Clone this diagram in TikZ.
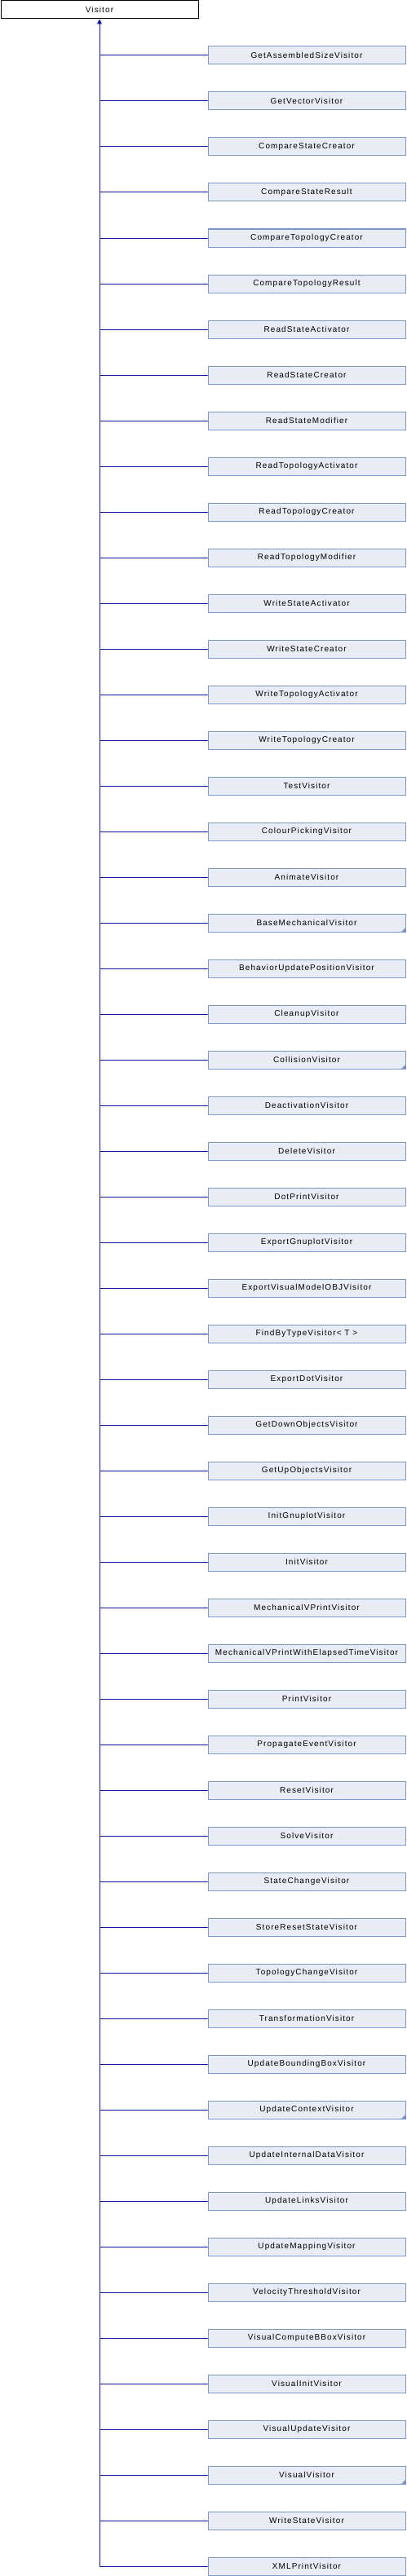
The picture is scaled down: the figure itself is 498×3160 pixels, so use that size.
\documentclass[tikz,border=0pt]{standalone}
\usepackage{fontspec}
\newfontfamily\diagfont{Liberation Sans}[LetterSpace=11]
\usetikzlibrary{arrows.meta}

\definecolor{boxfill}{HTML}{E8ECF5}
\definecolor{boxline}{HTML}{7C95CA}
\definecolor{linkblue}{HTML}{14149A}

\begin{document}
\begin{tikzpicture}[
  x=1pt, y=-1pt,
  base/.style={rectangle, draw=black, fill=white, line width=1pt, minimum width=242pt, minimum height=22pt, inner sep=0pt, anchor=north west, font=\diagfont\fontsize{10}{12}\selectfont},
  child/.style={rectangle, draw=boxline, fill=boxfill, line width=1pt, minimum width=242pt, minimum height=22pt, inner sep=0pt, anchor=north west, font=\diagfont\fontsize{10}{12}\selectfont},
  folded/.style={path picture={\fill[boxline] (path picture bounding box.south east) -- ++(-5pt,0pt) -- ++(5pt,5pt) -- cycle;}},
  link/.style={draw=linkblue, line width=1pt},
  arrow/.style={link, -{Triangle[length=6pt, width=6pt]}},
]
\useasboundingbox (0,0) rectangle (498,3160);

\node[base] (visitor) at (0.5, 0.5) {Visitor};

% Derived classes
\node[child] (c1) at (254.5, 56.5) {GetAssembledSizeVisitor};
\node[child] (c2) at (254.5, 112.5) {GetVectorVisitor};
\node[child] (c3) at (254.5, 168.5) {CompareStateCreator};
\node[child] (c4) at (254.5, 224.5) {CompareStateResult};
\node[child] (c5) at (254.5, 280.5) {CompareTopologyCreator};
\node[child] (c6) at (254.5, 336.5) {CompareTopologyResult};
\node[child] (c7) at (254.5, 392.5) {ReadStateActivator};
\node[child] (c8) at (254.5, 448.5) {ReadStateCreator};
\node[child] (c9) at (254.5, 504.5) {ReadStateModifier};
\node[child] (c10) at (254.5, 560.5) {ReadTopologyActivator};
\node[child] (c11) at (254.5, 616.5) {ReadTopologyCreator};
\node[child] (c12) at (254.5, 672.5) {ReadTopologyModifier};
\node[child] (c13) at (254.5, 728.5) {WriteStateActivator};
\node[child] (c14) at (254.5, 784.5) {WriteStateCreator};
\node[child] (c15) at (254.5, 840.5) {WriteTopologyActivator};
\node[child] (c16) at (254.5, 896.5) {WriteTopologyCreator};
\node[child] (c17) at (254.5, 952.5) {TestVisitor};
\node[child] (c18) at (254.5, 1008.5) {ColourPickingVisitor};
\node[child] (c19) at (254.5, 1064.5) {AnimateVisitor};
\node[child, folded] (c20) at (254.5, 1120.5) {BaseMechanicalVisitor};
\node[child] (c21) at (254.5, 1176.5) {BehaviorUpdatePositionVisitor};
\node[child] (c22) at (254.5, 1232.5) {CleanupVisitor};
\node[child, folded] (c23) at (254.5, 1288.5) {CollisionVisitor};
\node[child] (c24) at (254.5, 1344.5) {DeactivationVisitor};
\node[child] (c25) at (254.5, 1400.5) {DeleteVisitor};
\node[child] (c26) at (254.5, 1456.5) {DotPrintVisitor};
\node[child] (c27) at (254.5, 1512.5) {ExportGnuplotVisitor};
\node[child] (c28) at (254.5, 1568.5) {ExportVisualModelOBJVisitor};
\node[child] (c29) at (254.5, 1624.5) {FindByTypeVisitor< T >};
\node[child] (c30) at (254.5, 1680.5) {ExportDotVisitor};
\node[child] (c31) at (254.5, 1736.5) {GetDownObjectsVisitor};
\node[child] (c32) at (254.5, 1792.5) {GetUpObjectsVisitor};
\node[child] (c33) at (254.5, 1848.5) {InitGnuplotVisitor};
\node[child] (c34) at (254.5, 1904.5) {InitVisitor};
\node[child] (c35) at (254.5, 1960.5) {MechanicalVPrintVisitor};
\node[child] (c36) at (254.5, 2016.5) {MechanicalVPrintWithElapsedTimeVisitor};
\node[child] (c37) at (254.5, 2072.5) {PrintVisitor};
\node[child] (c38) at (254.5, 2128.5) {PropagateEventVisitor};
\node[child] (c39) at (254.5, 2184.5) {ResetVisitor};
\node[child] (c40) at (254.5, 2240.5) {SolveVisitor};
\node[child] (c41) at (254.5, 2296.5) {StateChangeVisitor};
\node[child] (c42) at (254.5, 2352.5) {StoreResetStateVisitor};
\node[child] (c43) at (254.5, 2408.5) {TopologyChangeVisitor};
\node[child] (c44) at (254.5, 2464.5) {TransformationVisitor};
\node[child] (c45) at (254.5, 2520.5) {UpdateBoundingBoxVisitor};
\node[child, folded] (c46) at (254.5, 2576.5) {UpdateContextVisitor};
\node[child] (c47) at (254.5, 2632.5) {UpdateInternalDataVisitor};
\node[child] (c48) at (254.5, 2688.5) {UpdateLinksVisitor};
\node[child] (c49) at (254.5, 2744.5) {UpdateMappingVisitor};
\node[child] (c50) at (254.5, 2800.5) {VelocityThresholdVisitor};
\node[child] (c51) at (254.5, 2856.5) {VisualComputeBBoxVisitor};
\node[child] (c52) at (254.5, 2912.5) {VisualInitVisitor};
\node[child] (c53) at (254.5, 2968.5) {VisualUpdateVisitor};
\node[child, folded] (c54) at (254.5, 3024.5) {VisualVisitor};
\node[child] (c55) at (254.5, 3080.5) {WriteStateVisitor};
\node[child] (c56) at (254.5, 3136.5) {XMLPrintVisitor};

% Inheritance links
\draw[arrow] (c56.west -| visitor.south) -- (visitor.south);
\foreach \i in {1,...,56}
  \draw[link] (c\i.west) -- (c\i.west -| visitor.south);

\end{tikzpicture}
\end{document}
